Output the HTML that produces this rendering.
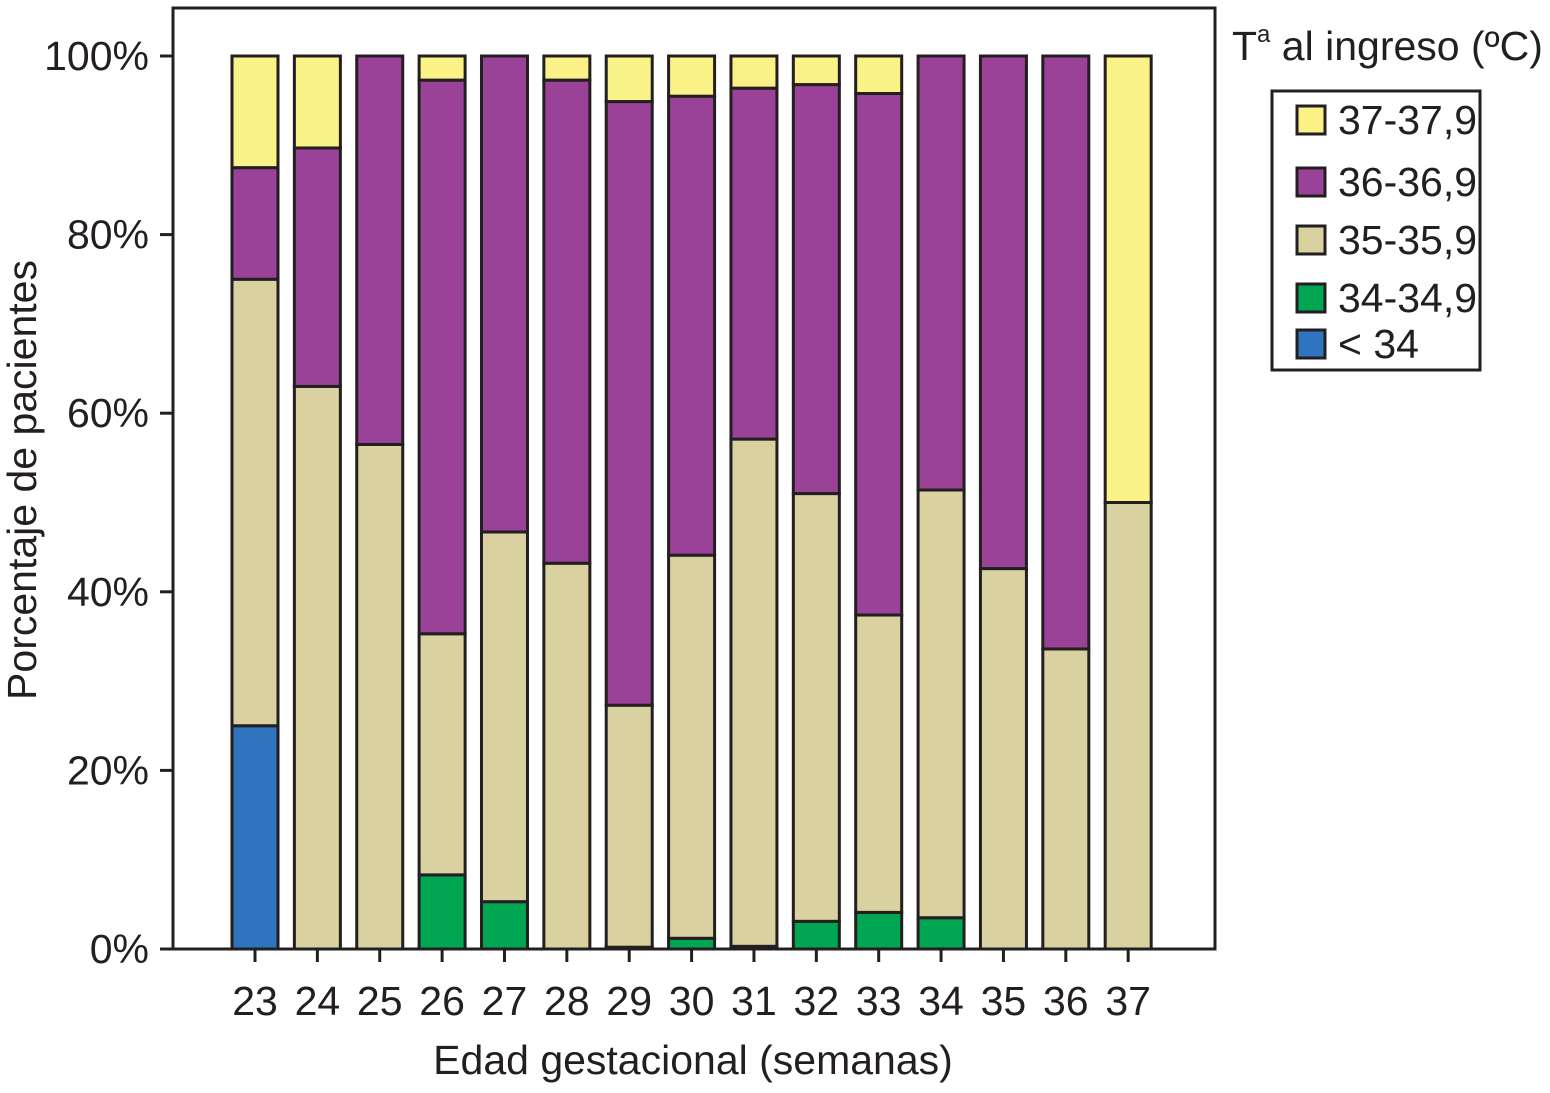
<!DOCTYPE html>
<html><head><meta charset="utf-8"><style>
body{margin:0;background:#fff;}
svg{display:block;font-family:"Liberation Sans",Arial,sans-serif;}
</style></head><body>
<svg id="chart" width="1550" height="1093" viewBox="0 0 1550 1093">
<rect x="173" y="8" width="1042" height="941" fill="#fff" stroke="#231f20" stroke-width="3"/>
<g id="yaxis"></g>
<g id="bars"></g>
<g id="xaxis"></g>
<text x="693" y="1074" font-size="41" text-anchor="middle" fill="#231f20">Edad gestacional (semanas)</text>
<text transform="translate(36,480) rotate(-90)" font-size="41" text-anchor="middle" fill="#231f20">Porcentaje de pacientes</text>
<text x="1232" y="60" font-size="41" fill="#231f20">T<tspan font-size="24" dy="-18">a</tspan><tspan dy="18"> al ingreso (ºC)</tspan></text>
<rect x="1272" y="91" width="208" height="279" fill="#fff" stroke="#231f20" stroke-width="3"/>
<g id="legend"></g>
</svg>
<script>
const categories = ["23","24","25","26","27","28","29","30","31","32","33","34","35","36","37"];
const seriesNames = ["< 34","34-34,9","35-35,9","36-36,9","37-37,9"];
const lt34 =   [25,0,0,0,0,0,0,0,0,0,0,0,0,0,0];
const s34 =    [0,0,0,8.3,5.3,0,0.2,1.2,0.3,3.1,4.1,3.5,0,0,0];
const s35 =    [50,63,56.5,27,41.4,43.2,27.1,42.9,56.8,47.9,33.3,47.9,42.6,33.6,50];
const s36 =    [12.5,26.7,43.5,62,53.3,54.1,67.6,51.4,39.3,45.8,58.4,48.6,57.4,66.4,0];
const s37 =    [12.5,10.3,0,2.7,0,2.7,5.1,4.5,3.6,3.2,4.2,0,0,0,50];
const yTicks = [0,20,40,60,80,100];
const colors = ["#2e74bf","#00a651","#d9d1a0","#9a4198","#fbf287"];
const series = [lt34,s34,s35,s36,s37];
const NS="http://www.w3.org/2000/svg";
const y0=949,y100=56;
function yScale(v){return y0-(y0-y100)*v/100;}
function xScale(i){return 255+i*62.37;}
const bw=46;
const yaxis=document.getElementById('yaxis');
yTicks.forEach(t=>{
  const y=yScale(t);
  const l=document.createElementNS(NS,'line');
  
  
  l.setAttribute('x1',160);l.setAttribute('x2',173);l.setAttribute('y1',y);l.setAttribute('y2',y);
  l.setAttribute('stroke','#231f20');l.setAttribute('stroke-width','3');
  yaxis.appendChild(l);
  const tx=document.createElementNS(NS,'text');
  
  
  tx.setAttribute('x',149);tx.setAttribute('y',y+14);tx.setAttribute('font-size','41');
  tx.setAttribute('text-anchor','end');tx.setAttribute('fill','#231f20');
  tx.textContent=t+'%';yaxis.appendChild(tx);
});
const bars=document.getElementById('bars'),xaxis=document.getElementById('xaxis');
categories.forEach((c,i)=>{
  let cum=0;const x=xScale(i)-bw/2;
  series.forEach((s,k)=>{
    const v=s[i];if(v<=0)return;
    const r=document.createElementNS(NS,'rect');
    
    
    r.setAttribute('x',x);r.setAttribute('y',yScale(cum+v));
    r.setAttribute('width',bw);r.setAttribute('height',yScale(cum)-yScale(cum+v));
    r.setAttribute('fill',colors[k]);r.setAttribute('stroke','#231f20');r.setAttribute('stroke-width','3');
    bars.appendChild(r);cum+=v;
  });
  const l=document.createElementNS(NS,'line');
  
  
  l.setAttribute('x1',xScale(i));l.setAttribute('x2',xScale(i));l.setAttribute('y1',949);l.setAttribute('y2',962);
  l.setAttribute('stroke','#231f20');l.setAttribute('stroke-width','3');xaxis.appendChild(l);
  const tx=document.createElementNS(NS,'text');
  
  
  tx.setAttribute('x',xScale(i));tx.setAttribute('y',1015);tx.setAttribute('font-size','41');
  tx.setAttribute('text-anchor','middle');tx.setAttribute('fill','#231f20');
  tx.textContent=c;xaxis.appendChild(tx);
});
const legend=document.getElementById('legend');
const ly=[120,182,240,298,344];
[4,3,2,1,0].forEach((k,j)=>{
  const r=document.createElementNS(NS,'rect');
  
  
  r.setAttribute('x',1297);r.setAttribute('y',ly[j]-14);r.setAttribute('width',28);r.setAttribute('height',28);
  r.setAttribute('fill',colors[k]);r.setAttribute('stroke','#231f20');r.setAttribute('stroke-width','3');
  legend.appendChild(r);
  const tx=document.createElementNS(NS,'text');
  
  
  tx.setAttribute('x',1338);tx.setAttribute('y',ly[j]+14);tx.setAttribute('font-size','41');tx.setAttribute('fill','#231f20');
  tx.textContent=seriesNames[k];legend.appendChild(tx);
});
</script>
</body></html>
